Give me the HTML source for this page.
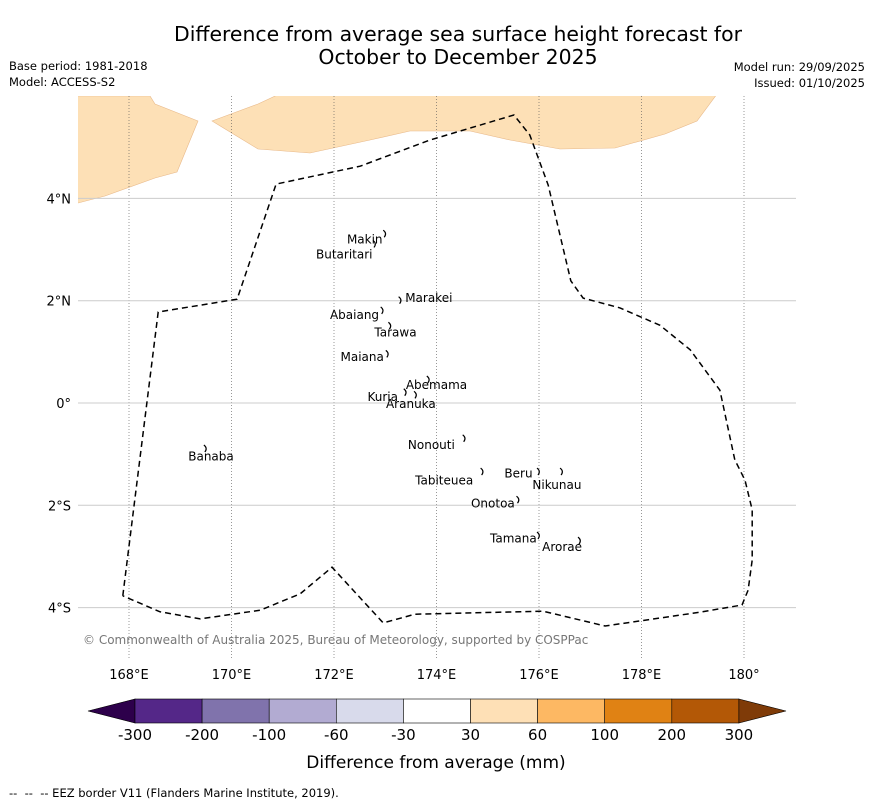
<!DOCTYPE html>
<html><head><meta charset="utf-8"><style>
body{margin:0;background:#fff;font-family:"Liberation Sans","DejaVu Sans",sans-serif;}
svg text{font-family:"DejaVu Sans","Liberation Sans",sans-serif;}
</style></head><body>
<svg id="c" width="873" height="804" xmlns="http://www.w3.org/2000/svg">
<rect width="873" height="804" fill="#fff"/>
<text x="458" y="41" font-size="20.4" text-anchor="middle">Difference from average sea surface height forecast for</text>
<text x="458" y="64" font-size="20.4" text-anchor="middle">October to December 2025</text>
<text x="9" y="70" font-size="11.5">Base period: 1981-2018</text>
<text x="9" y="86" font-size="11.5">Model: ACCESS-S2</text>
<text x="865" y="71" font-size="11.5" text-anchor="end">Model run: 29/09/2025</text>
<text x="865" y="87" font-size="11.5" text-anchor="end">Issued: 01/10/2025</text>
<defs><clipPath id="mc"><rect x="78" y="96" width="718" height="562"/></clipPath></defs>
<g clip-path="url(#mc)" id="map">
<polygon fill="#fde0b6" stroke="#e8b98a" stroke-width="0.6" points="70,96 150,96 155,104 198,121 177,172 155,178 105,196 78,203 70,205"/>
<polygon fill="#fde0b6" stroke="#e8b98a" stroke-width="0.6" points="212,121 258,104 288,90 720,90 697,121 665,134 615,148 560,149 510,140 470,131 410,131 370,140 310,153 258,149"/>
<g id="grid"></g>
<path id="eez" fill="none" stroke="#000" stroke-width="1.5" stroke-dasharray="6,4"/>
<g id="islands" stroke="#000" stroke-width="1.2" fill="none"></g>
</g>
<g id="axes"></g>
<text x="83" y="644" font-size="12" fill="#777">© Commonwealth of Australia 2025, Bureau of Meteorology, supported by COSPPac</text>
<g id="cbar"></g>
<text x="436" y="768" font-size="17" text-anchor="middle">Difference from average (mm)</text>
<text x="9" y="797" font-size="11.5" xml:space="preserve">--  --  -- EEZ border V11 (Flanders Marine Institute, 2019).</text>
</svg>
<script>
const lonTicks=[168,170,172,174,176,178,180];
const lonLabels=["168°E","170°E","172°E","174°E","176°E","178°E","180°"];
const latTicks=[4,2,0,-2,-4];
const latLabels=["4°N","2°N","0°","2°S","4°S"];
const eezLon=[167.88,168.57,170.11,170.87,172.51,173.87,175.51,175.82,176.18,176.62,176.86,177.58,178.36,178.95,179.53,179.82,180.02,180.16,180.16,180.08,179.96,179.14,177.29,176.08,173.58,172.96,171.96,171.34,170.56,169.39,168.60,167.88];
const eezLat=[-3.77,1.78,2.03,4.28,4.63,5.14,5.63,5.24,4.26,2.39,2.05,1.86,1.52,1.04,0.25,-1.11,-1.51,-2.09,-3.07,-3.66,-3.95,-4.09,-4.36,-4.07,-4.13,-4.30,-3.21,-3.73,-4.05,-4.22,-4.08,-3.77];
const islandNames=["Makin","Butaritari","Marakei","Abaiang","Tarawa","Maiana","Abemama","Kuria","Aranuka","Nonouti","Tabiteuea","Beru","Nikunau","Onotoa","Tamana","Arorae","Banaba"];
const islandLon=[173.0,172.8,173.3,172.95,173.1,173.05,173.85,173.4,173.6,174.55,174.9,176.0,176.45,175.6,176.0,176.8,169.5];
const islandLat=[3.3,3.1,2.0,1.8,1.5,0.95,0.45,0.2,0.15,-0.7,-1.35,-1.35,-1.35,-1.9,-2.6,-2.7,-0.9];
const labelLon=[172.6,172.2,173.85,172.4,173.2,172.55,174.0,172.95,173.5,173.9,174.15,175.6,176.35,175.1,175.5,176.45,169.6];
const labelLat=[3.2,2.9,2.05,1.72,1.38,0.9,0.35,0.12,-0.02,-0.82,-1.52,-1.38,-1.6,-1.96,-2.65,-2.82,-1.05];
const cbLabels=["-300","-200","-100","-60","-30","30","60","100","200","300"];
const cbColors=["#2d004b","#542788","#8073ac","#b2abd2","#d8daeb","#ffffff","#fee0b6","#fdb863","#e08214","#b35806","#7f3b08"];
const NS="http://www.w3.org/2000/svg";
const X=lon=>129+(lon-168)*51.25;
const Y=lat=>403-lat*51.15;
function mk(tag,attrs,parent){const e=document.createElementNS(NS,tag);for(const k in attrs)e.setAttribute(k,attrs[k]);parent.appendChild(e);return e;}
const grid=document.getElementById('grid'),axes=document.getElementById('axes');
lonTicks.forEach((l,i)=>{
  const g=mk('line',{x1:X(l),x2:X(l),y1:96,y2:658,stroke:'#555','stroke-width':0.6,'stroke-dasharray':'1,2'},grid);
  
  
  const t=mk('text',{x:X(l),y:679,'font-size':13,'text-anchor':'middle'},axes);t.textContent=lonLabels[i];
  
  
});
latTicks.forEach((l,i)=>{
  const g=mk('line',{x1:78,x2:796,y1:Y(l),y2:Y(l),stroke:'#ccc','stroke-width':1},grid);
  
  
  const t=mk('text',{x:71,y:Y(l)+5,'font-size':13,'text-anchor':'end'},axes);t.textContent=latLabels[i];
  
  
});
document.getElementById('eez').setAttribute('d',eezLon.map((l,i)=>(i?'L':'M')+X(l).toFixed(1)+','+Y(eezLat[i]).toFixed(1)).join(''));
const isl=document.getElementById('islands');
islandNames.forEach((n,i)=>{
  const x=X(islandLon[i]),y=Y(islandLat[i]);
  const p=mk('path',{d:`M${x-2},${y-4} q4,3 1,7`},isl);
  
  
  const t=mk('text',{x:X(labelLon[i]),y:Y(labelLat[i])+4,'font-size':12,'text-anchor':'middle',fill:'#000',stroke:'none'},isl);
  t.textContent=n;
  
  
});
const cb=document.getElementById('cbar');
const x0=135,w=67.1,y0=699,h=24;
const tl=mk('polygon',{points:`88,711 ${x0},${y0} ${x0},${y0+h}`,fill:cbColors[0],stroke:'#000','stroke-width':0.6},cb);


for(let i=0;i<9;i++){
  const r=mk('rect',{x:x0+i*w,y:y0,width:w,height:h,fill:cbColors[i+1],stroke:'#000','stroke-width':0.6},cb);
  
  
}
const tr=mk('polygon',{points:`${x0+9*w},${y0} 786,711 ${x0+9*w},${y0+h}`,fill:cbColors[10],stroke:'#000','stroke-width':0.6},cb);


cbLabels.forEach((s,i)=>{
  const t=mk('text',{x:x0+i*w,y:740,'font-size':15,'text-anchor':'middle'},cb);t.textContent=s;
  
  
});
</script>
</body></html>
